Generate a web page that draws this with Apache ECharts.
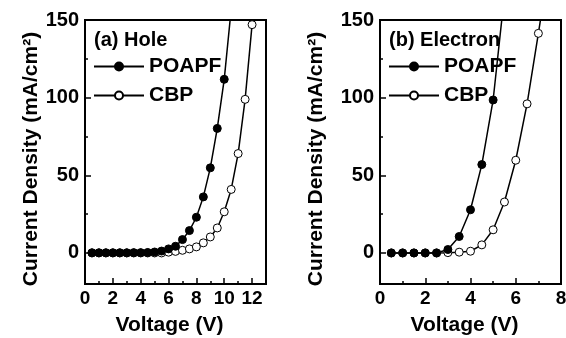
<!DOCTYPE html>
<html>
<head>
<meta charset="utf-8">
<script src="https://cdn.jsdelivr.net/npm/echarts@6/dist/echarts.min.js"></script>
<style>
html,body{margin:0;padding:0;background:#fff;}
#c{width:566px;height:338px;}
</style>
</head>
<body>
<div id="c"></div>
<script>
// ---- Data ----
// Panel (a) Hole
const voltsA_POAPF = [0.5,1,1.5,2,2.5,3,3.5,4,4.5,5,5.5,6,6.5,7,7.5,8,8.5,9,9.5,10,10.5];
const holePOAPF    = [0.1,0.1,0.1,0.1,0.1,0.1,0.2,0.2,0.3,0.6,1.2,2.6,4.3,8.6,14.4,23,36.1,54.8,80.2,111.8,157];
const voltsA_CBP   = [0.5,1,1.5,2,2.5,3,3.5,4,4.5,5,5.5,6,6.5,7,7.5,8,8.5,9,9.5,10,10.5,11,11.5,12];
const holeCBP      = [0,0,0,0,0,0,0,0,0,0,0,0.5,1.0,1.7,2.6,3.9,6.5,10.3,16.1,26.5,40.9,64,98.9,147];
// Panel (b) Electron
const voltsB_POAPF = [0.5,1,1.5,2,2.5,3,3.5,4,4.5,5,5.5];
const elecPOAPF    = [0,0,0,0,0,2.2,10.6,27.8,56.9,98.5,166];
const voltsB_CBP   = [0.5,1,1.5,2,2.5,3,3.5,4,4.5,5,5.5,6,6.5,7,7.5];
const elecCBP      = [0,0,0,0,0,0.2,0.5,1.1,5.2,14.9,32.8,59.7,96,141.4,188];
// Ticks
const xMajorA = [0,2,4,6,8,10,12];
const xMinorA = [1,3,5,7,9,11];
const xMajorB = [0,2,4,6,8];
const xMinorB = [1,3,5,7];
const yMajor  = [0,50,100,150];
const yMinor  = [25,75,125];
const seriesNames = ['POAPF','CBP'];
const panelTitles = ['(a) Hole','(b) Electron'];
const xTitle = 'Voltage (V)';
const yTitle = 'Current Density (mA/cm\u00B2)';

// ---- Chart ----
const FONT = 'Liberation Sans, Arial, sans-serif';
const chart = echarts.init(document.getElementById('c'), null, {renderer:'canvas'});
const pair = (a,b)=>a.map((v,i)=>[v,b[i]]);

const grids = [
  {left:85, top:20, width:181, height:264, show:true, borderColor:'#000', borderWidth:2,
   backgroundColor:'transparent', containLabel:false, outerBoundsMode:'none'},
  {left:380, top:20, width:181, height:264, show:true, borderColor:'#000', borderWidth:2,
   backgroundColor:'transparent', containLabel:false, outerBoundsMode:'none'}
];

function xMain(gi, max, labels, gap){
  return {type:'value', gridIndex:gi, position:'bottom', min:0, max:max,
    axisLine:{show:false, onZero:false}, splitLine:{show:false},
    axisTick:{show:true, inside:true, length:6, customValues:labels, lineStyle:{color:'#000', width:1.5}},
    axisLabel:{customValues:labels, color:'#000', fontSize:19, fontWeight:'bold', fontFamily:FONT, margin:5},
    name:xTitle, nameLocation:'middle', nameGap:gap,
    nameTextStyle:{color:'#000', fontSize:21, fontWeight:'bold', fontFamily:FONT, padding:[0,12,0,0]}
  };
}
function xMinor(gi, max, ticks){
  return {type:'value', gridIndex:gi, position:'bottom', min:0, max:max,
    axisLine:{show:false, onZero:false}, splitLine:{show:false}, axisLabel:{show:false},
    axisTick:{show:true, inside:true, length:3, customValues:ticks, lineStyle:{color:'#000', width:1.5}}
  };
}
function yMain(gi, gap){
  return {type:'value', gridIndex:gi, position:'left', min:-20, max:150,
    axisLine:{show:false, onZero:false}, splitLine:{show:false},
    axisTick:{show:true, inside:true, length:6, customValues:yMajor, lineStyle:{color:'#000', width:1.5}},
    axisLabel:{customValues:yMajor, color:'#000', fontSize:20, fontWeight:'bold', fontFamily:FONT, margin:6},
    name:yTitle, nameLocation:'middle', nameRotate:90, nameGap:gap,
    nameTextStyle:{color:'#000', fontSize:21, fontWeight:'bold', fontFamily:FONT, padding:[0,14,0,0]}
  };
}
function yMinorAx(gi){
  return {type:'value', gridIndex:gi, position:'left', min:-20, max:150,
    axisLine:{show:false, onZero:false}, splitLine:{show:false}, axisLabel:{show:false},
    axisTick:{show:true, inside:true, length:3, customValues:yMinor, lineStyle:{color:'#000', width:1.5}}
  };
}

function ser(name, data, xi, yi, filled){
  return {type:'line', name:name, data:data, xAxisIndex:xi, yAxisIndex:yi,
    symbol:'circle', symbolSize:8, showSymbol:true, clip:true, animation:false,
    lineStyle:{color:'#000', width:1.5},
    itemStyle: filled ? {color:'#000', borderColor:'#000', borderWidth:1}
                      : {color:'#fff', borderColor:'#000', borderWidth:1},
    emphasis:{disabled:true}
  };
}

function legend(left){
  return {left:left, top:56, padding:0, orient:'vertical', itemWidth:50, itemHeight:10, itemGap:8,
    selectedMode:false, data:seriesNames,
    textStyle:{color:'#000', fontSize:21, fontWeight:'bold', fontFamily:FONT, lineHeight:20}};
}

chart.setOption({
  backgroundColor:'#fff',
  animation:false,
  grid:grids,
  xAxis:[xMain(0,13,xMajorA,31), xMinor(0,13,xMinorA), xMain(1,8,xMajorB,31), xMinor(1,8,xMinorB)],
  yAxis:[yMain(0,42), yMinorAx(0), yMain(1,53), yMinorAx(1)],
  legend:[legend(93), legend(388)],
  graphic:[
    {type:'text', left:94, top:30, style:{text:panelTitles[0], fill:'#000', font:'bold 20px '+FONT}},
    {type:'text', left:389, top:30, style:{text:panelTitles[1], fill:'#000', font:'bold 20px '+FONT}}
  ],
  series:[
    ser(seriesNames[1], pair(voltsA_CBP, holeCBP), 0, 0, false),
    ser(seriesNames[0], pair(voltsA_POAPF, holePOAPF), 0, 0, true),
    ser(seriesNames[1], pair(voltsB_CBP, elecCBP), 2, 2, false),
    ser(seriesNames[0], pair(voltsB_POAPF, elecPOAPF), 2, 2, true)
  ]
});
</script>
</body>
</html>
